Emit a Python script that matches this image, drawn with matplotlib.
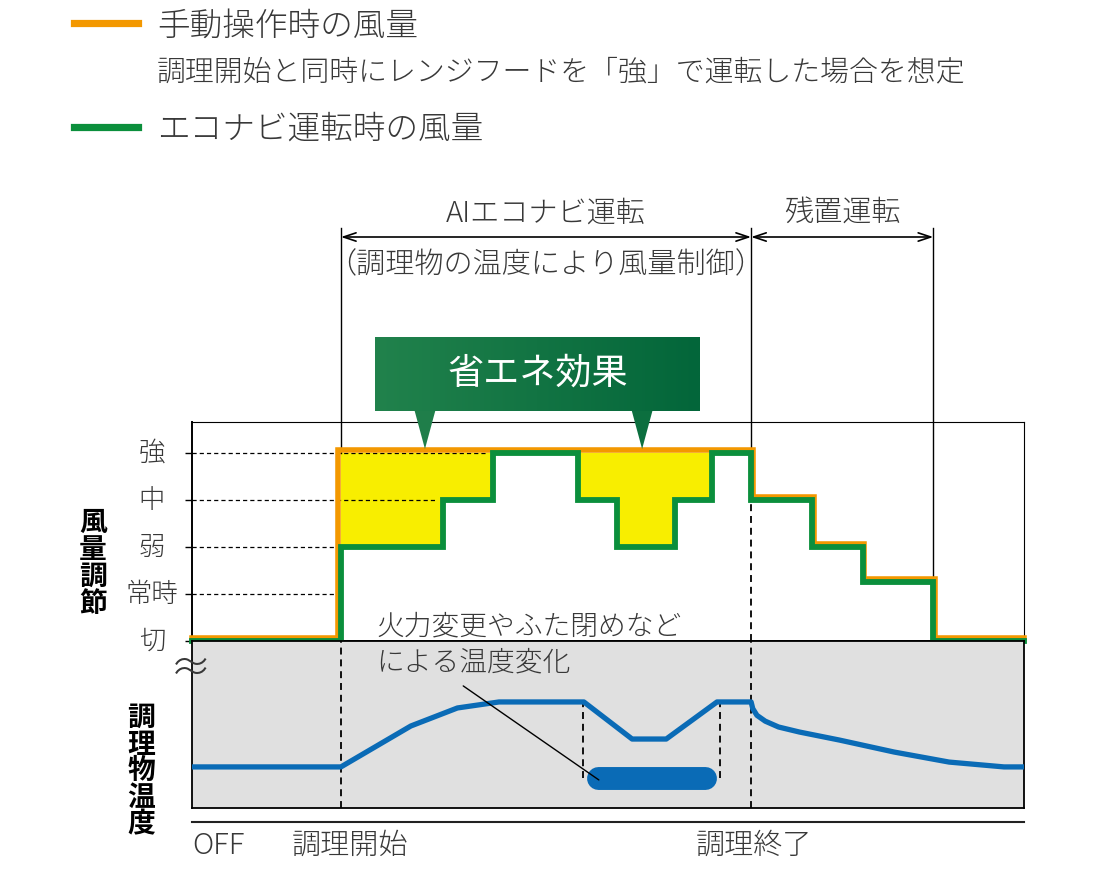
import matplotlib
matplotlib.use('Agg')
import matplotlib.pyplot as plt
import matplotlib.transforms as mtransforms
from matplotlib.colors import LinearSegmentedColormap
from matplotlib.lines import Line2D
from matplotlib.patches import Polygon
import numpy as np

plt.rcParams['font.family'] = ['Noto Sans CJK JP', 'DejaVu Sans']
plt.rcParams['font.weight'] = 'light'
plt.rcParams['lines.scale_dashes'] = False

# --- data ---------------------------------------------------------------
level_labels = ['切', '常時', '弱', '中', '強']
level_values = [0, 1, 2, 3, 4]

t_start = 17.9      # 調理開始
t_end = 67.2        # 調理終了
t_residual = 89.1   # 残置運転の終わり

# 手動操作時の風量 (step, post)
manual_t = [0, 17.6, 67.4, 74.7, 80.8, 89.3, 100]
manual_lv = [0, 4, 3, 2, 1.25, 0, 0]

# エコナビ運転時の風量 (step, post)
econavi_t = [0, 17.9, 30.2, 36.2, 46.4, 51.1, 58.1, 62.5, 67.2, 74.5, 80.6, 89.1, 100]
econavi_lv = [0, 2, 3, 4, 3, 2, 3, 4, 3, 2, 1.25, 0, 0]

# where the dashed level guides stop (常時, 弱, 中, 強)
guide_levels = [1, 2, 3, 4]
guide_ends = [17.2, 24.2, 29.2, 35.5]

# 調理物温度
temp_t = [0, 17.9, 26.3, 31.9, 36.9, 47.1, 52.9, 57.0, 63.1, 67.2,
          67.4, 67.9, 68.9, 70.5, 73.0, 77.8, 84.4, 91.0, 97.6, 100]
temp_v = [24.6, 24.6, 49.1, 59.9, 63.5, 63.5, 41.3, 41.3, 63.5, 63.5,
          59.5, 55.5, 52.0, 48.5, 45.5, 40.7, 33.5, 27.5, 24.6, 24.6]

change_t = [47.0, 63.5]          # 火力変更やふた閉めの区間
change_v = [18, 63]
pill_t = [48.8, 61.7]
pill_v = 17.7

callout_t = [28.0, 54.1]          # 省エネ効果の吹き出し先

ORANGE = '#f39800'
GREEN = '#0b8f3c'
BLUE = '#0a6bb6'
YELLOW = '#f8ee00'
GRAY_BG = '#e0e0e0'
TEXT = '#383838'

W, H = 1100, 874


def fx(px):
    return px / W


def fy(py):
    return 1 - py / H


fig = plt.figure(figsize=(11, 8.74), dpi=100)

ax_fan = fig.add_axes([fx(192), fy(641), 832 / W, 219 / H])
ax_temp = fig.add_axes([fx(192), fy(808), 832 / W, 167 / H])

ax_fan.set_xlim(0, 100)
ax_fan.set_ylim(0, 4.66)
ax_temp.set_xlim(0, 100)
ax_temp.set_ylim(0, 100)

# axes styling
for side in ['top', 'right']:
    ax_fan.spines[side].set_linewidth(0.8)
for side in ['left', 'bottom']:
    ax_fan.spines[side].set_linewidth(1.4)
ax_fan.set_xticks([])
ax_fan.set_yticks(level_values)
ax_fan.set_yticklabels([])
ax_fan.tick_params(axis='y', direction='out', length=5, width=1)

ax_temp.set_facecolor(GRAY_BG)
for sp in ax_temp.spines.values():
    sp.set_linewidth(1.3)
ax_temp.set_xticks([])
ax_temp.set_yticks([])

blend_fan = mtransforms.blended_transform_factory(fig.transFigure, ax_fan.transData)
for lv, lab in zip(level_values, level_labels):
    ax_fan.text(fx(152), lv, lab, transform=blend_fan, ha='center', va='center',
                fontsize=19, color=TEXT)

# dashed level guides
for lv, te in zip(guide_levels, guide_ends):
    ax_fan.plot([0, te], [lv, lv], color='black', lw=0.9, dashes=(3, 2.2), zorder=3)

# yellow saving area
et = np.array(econavi_t)
el = np.array(econavi_lv)
m = (et >= t_start) & (et <= t_end)
ax_fan.fill_between(et[m], el[m], 4, step='post', color=YELLOW, lw=0, zorder=2)

# fan lines
orange_tr = mtransforms.offset_copy(ax_fan.transData, fig=fig, x=0, y=3, units='dots')
ax_fan.plot(manual_t, manual_lv, drawstyle='steps-post', color=ORANGE, lw=4,
            transform=orange_tr, clip_on=False, solid_joinstyle='miter', zorder=4)
ax_fan.plot(econavi_t, econavi_lv, drawstyle='steps-post', color=GREEN, lw=4.2,
            clip_on=False, solid_joinstyle='miter', zorder=5)

# vertical phase lines
inv = ax_fan.transData.inverted()


def fan_y(py):
    return inv.transform(fig.transFigure.transform((0, fy(py))))[1]


y_top = fan_y(228)
ax_fan.plot([t_start, t_start], [4, y_top], color='black', lw=1, clip_on=False, zorder=3)
ax_fan.plot([t_end, t_end], [4, y_top], color='black', lw=1, clip_on=False, zorder=3)
ax_fan.plot([t_residual, t_residual], [1.25, y_top], color='black', lw=1, clip_on=False, zorder=3)
ax_fan.plot([t_end, t_end], [0, 4], color='black', lw=1.3, dashes=(5, 3.5), zorder=3)

ax_temp.axvline(t_start, color='black', lw=1.3, dashes=(5, 3.5), zorder=2)
ax_temp.axvline(t_end, color='black', lw=1.3, dashes=(5, 3.5), zorder=2)
ax_temp.vlines(change_t, change_v[0], change_v[1], color='black', lw=1.3,
               linestyles=(0, (5, 3.5)), zorder=2)

# dimension arrows
y_arr = fan_y(237)
arrow_kw = dict(arrowstyle='<->,head_length=0.9,head_width=0.3', lw=1.2,
                color='black', shrinkA=0, shrinkB=0)
ax_fan.annotate('', xy=(t_start, y_arr), xytext=(t_end, y_arr),
                arrowprops=arrow_kw, annotation_clip=False)
ax_fan.annotate('', xy=(t_end, y_arr), xytext=(t_residual, y_arr),
                arrowprops=arrow_kw, annotation_clip=False)
ax_fan.text((t_start + t_end) / 2, fan_y(213), 'AIエコナビ運転', ha='center', va='center',
            fontsize=21, color=TEXT, clip_on=False)
ax_fan.text((t_end + t_residual) / 2, fan_y(213), '残置運転', ha='center', va='center',
            fontsize=21, color=TEXT, clip_on=False)
ax_fan.text((t_start + t_end) / 2, fan_y(265), '（調理物の温度により風量制御）',
            ha='center', va='center', fontsize=21, color=TEXT, clip_on=False)

# callout box
cax = fig.add_axes([fx(375), fy(411), 325 / W, 74 / H])
cmap = LinearSegmentedColormap.from_list('callout', ['#21824c', '#03663a'])
cax.imshow(np.linspace(0, 1, 256).reshape(1, -1), aspect='auto', cmap=cmap,
           extent=[0, 1, 0, 1])
cax.axis('off')
cax.text(0.5, 0.5, '省エネ効果', color='white', fontsize=26, ha='center', va='center',
         fontweight='normal')

blend_top = mtransforms.blended_transform_factory(ax_fan.transData, fig.transFigure)
for tc, col in zip(callout_t, ['#1f7e4a', '#0c6f3f']):
    tri = Polygon([(tc - 1.3, fy(409)), (tc + 1.3, fy(409)), (tc, fy(449))],
                  closed=True, facecolor=col, edgecolor='none',
                  transform=blend_top, clip_on=False, zorder=6)
    ax_fan.add_patch(tri)

# temperature
ax_temp.plot(temp_t, temp_v, color=BLUE, lw=3.8, solid_joinstyle='round', zorder=4)
ax_temp.plot(pill_t, [pill_v, pill_v], color=BLUE, lw=16.5, solid_capstyle='round', zorder=5)
ax_temp.annotate('', xy=(48.9, 16.8), xytext=(32.6, 73.1),
                 arrowprops=dict(arrowstyle='-', lw=1, color='black', shrinkA=0, shrinkB=0),
                 zorder=6)

fig.text(fx(376), fy(626), '火力変更やふた閉めなど', ha='left', va='center',
         fontsize=20, color=TEXT)
fig.text(fx(376), fy(662), 'による温度変化', ha='left', va='center',
         fontsize=20, color=TEXT)

# break mark
fig.text(fx(191), fy(670), '≈', ha='center', va='center', fontsize=30, color=TEXT)

# vertical titles


def vtext(xc, y0, step, s):
    for i, ch in enumerate(s):
        fig.text(fx(xc), fy(y0 + i * step), ch, ha='center', va='center',
                 fontsize=20, fontweight='bold', color='black')


vtext(93, 523, 27, '風量調節')
vtext(141, 718, 26.7, '調理物温度')

# bottom time line
fig.add_artist(Line2D([fx(192), fx(1024)], [fy(822), fy(822)], color='#222222', lw=1.5))
fig.text(fx(192), fy(846), 'OFF', ha='left', va='center', fontsize=21, color=TEXT)
fig.text(fx(350), fy(846), '調理開始', ha='center', va='center', fontsize=21, color=TEXT)
fig.text(fx(754), fy(846), '調理終了', ha='center', va='center', fontsize=21, color=TEXT)

# legend
fig.add_artist(Line2D([fx(74), fx(138)], [fy(23), fy(23)], color=ORANGE, lw=5.2))
fig.add_artist(Line2D([fx(74), fx(138)], [fy(127), fy(127)], color=GREEN, lw=5.2))
fig.text(fx(157), fy(26), '手動操作時の風量', ha='left', va='center', fontsize=23.5, color=TEXT)
fig.text(fx(157), fy(72), '調理開始と同時にレンジフードを「強」で運転した場合を想定',
         ha='left', va='center', fontsize=20.8, color=TEXT)
fig.text(fx(157), fy(129), 'エコナビ運転時の風量', ha='left', va='center', fontsize=23.5, color=TEXT)

fig.savefig('out.png', dpi=100)
